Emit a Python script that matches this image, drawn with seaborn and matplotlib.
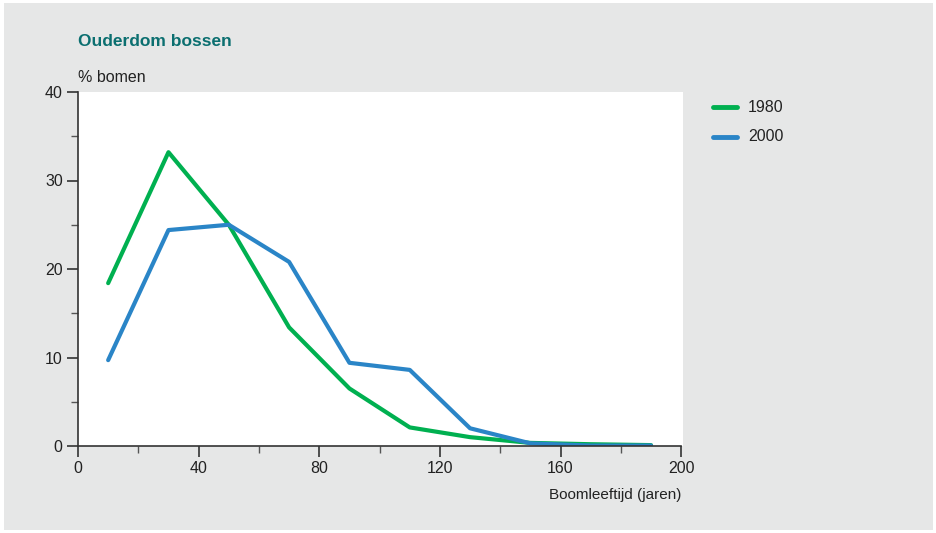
import matplotlib
matplotlib.use("Agg")
import matplotlib.pyplot as plt
import seaborn as sns
import pandas as pd
from matplotlib.patches import Rectangle
from matplotlib.ticker import MultipleLocator

ages = [10, 30, 50, 70, 90, 110, 130, 150, 170, 190]
y1980 = [18.4, 33.2, 25.0, 13.4, 6.5, 2.1, 1.0, 0.35, 0.2, 0.1]
y2000 = [9.7, 24.4, 25.0, 20.8, 9.4, 8.6, 2.0, 0.3, 0.05, 0.05]
series = ["1980", "2000"]
colors = {"1980": "#00b050", "2000": "#2a85c7"}

df = pd.concat([
    pd.DataFrame({"age": ages, "pct": y1980, "jaar": "1980"}),
    pd.DataFrame({"age": ages, "pct": y2000, "jaar": "2000"}),
])

sns.set_theme(style="white")
plt.rcParams['font.family'] = ['Liberation Sans', 'DejaVu Sans']

fig = plt.figure(figsize=(9.36, 5.33), dpi=100, facecolor="white")
fig.patches.append(Rectangle((4/936, 3/533), 929/936, 527/533, transform=fig.transFigure,
                             facecolor="#e6e7e7", edgecolor="none", zorder=-10))
W, H = 936, 533
ax = fig.add_axes([78/W, 1 - 446/H, (683-78)/W, (446-92)/H])
ax.set_facecolor("white")

sns.lineplot(data=df, x="age", y="pct", hue="jaar", hue_order=series, palette=colors,
             linewidth=3, ax=ax, legend=False)

ax.set_xlim(0, 200.6)
ax.set_ylim(0, 40)
ax.xaxis.set_major_locator(MultipleLocator(40))
ax.xaxis.set_minor_locator(MultipleLocator(20))
ax.yaxis.set_major_locator(MultipleLocator(10))
ax.yaxis.set_minor_locator(MultipleLocator(5))
ax.tick_params(axis="both", which="major", direction="out", length=8, width=1.2, color="#333333",
               labelsize=11.5, labelcolor="#222222", pad=3, bottom=True, left=True)
ax.tick_params(axis="both", which="minor", direction="out", length=5, width=1, color="#555555",
               bottom=True, left=True)
for s in ["top", "right"]:
    ax.spines[s].set_visible(False)
for s in ["left", "bottom"]:
    ax.spines[s].set_color("#333333")
    ax.spines[s].set_linewidth(1.2)
ax.spines["bottom"].set_bounds(0, 200)
ax.set_xlabel("")
ax.set_ylabel("")

fig.text(78/W, 1 - 42/H, "Ouderdom bossen", fontsize=12.5, fontweight="bold", color="#0b6f70",
         ha="left", va="center")
fig.text(78/W, 1 - 78/H, "% bomen", fontsize=11.5, color="#222222", ha="left", va="center")
fig.text(681/W, 1 - 495/H, "Boomleeftijd (jaren)", fontsize=11, color="#222222",
         ha="right", va="center")

for i, s in enumerate(series):
    yy = 1 - (107 + 30*i)/H
    fig.lines.append(plt.Line2D([713/W, 737/W], [yy, yy], transform=fig.transFigure,
                                color=colors[s], linewidth=3.5))
    fig.text(748/W, yy, s, fontsize=11.5, color="#222222", ha="left", va="center")

fig.savefig("out.png", dpi=100, facecolor=fig.get_facecolor())
